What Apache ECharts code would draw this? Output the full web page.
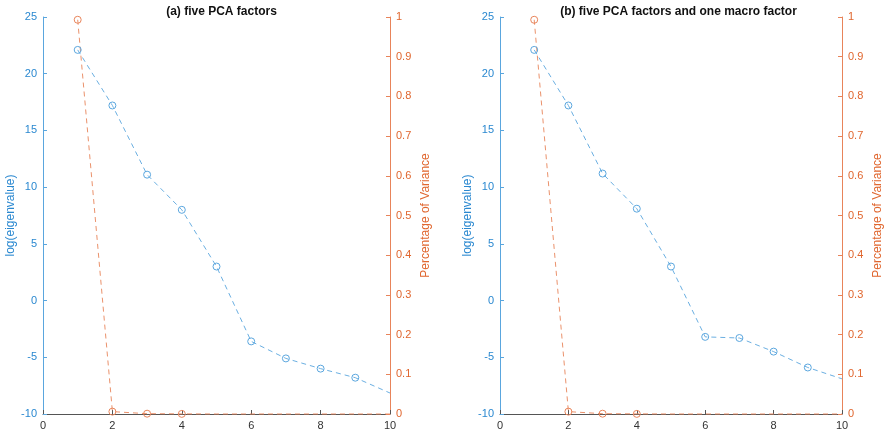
<!DOCTYPE html>
<html>
<head>
<meta charset="utf-8">
<script src="https://cdn.jsdelivr.net/npm/echarts@6/dist/echarts.min.js"></script>
<style>html,body{margin:0;padding:0;background:#fff}#c{width:885px;height:437px}</style>
</head>
<body>
<div id="c"></div>
<script>
var titles = ['(a) five PCA factors', '(b) five PCA factors and one macro factor'];
var factorX = [1, 2, 3, 4, 5, 6, 7, 8, 9, 10];
var logEigA = [22.1, 17.2, 11.1, 8.0, 3.0, -3.6, -5.1, -6.0, -6.8, -8.15];
var logEigB = [22.1, 17.2, 11.2, 8.1, 3.0, -3.2, -3.3, -4.5, -5.9, -6.9];
var varShareA = [0.993, 0.006, 0.0008, 0.0003, 0, 0, 0, 0, 0, 0];
var varShareB = [0.993, 0.006, 0.0008, 0.0003, 0, 0, 0, 0, 0, 0];
var markedVarPoints = 4;
var markedEigPoints = 9;

var BLUE = '#2A88D0';
var BLUE_LINE = '#5AA6DE';
var ORANGE = '#E0662E';
var ORANGE_LINE = '#E8845A';
var FONT = 'Liberation Sans';

function pts(vals, nMarked) {
  return factorX.map(function (x, i) {
    var p = { value: [x, vals[i]] };
    if (i >= nMarked) p.symbol = 'none';
    return p;
  });
}

var grids = [
  { left: 43, top: 17, width: 347, height: 397 },
  { left: 500, top: 17, width: 347, height: 397 }
];

var option = {
  animation: false,
  textStyle: { fontFamily: FONT },
  title: grids.map(function (g, i) {
    return {
      text: titles[i], left: g.left + g.width / 2, top: 1, textAlign: 'center',
      textStyle: { fontFamily: FONT, fontSize: 12, fontWeight: 'bold', color: '#111' }
    };
  }),
  grid: grids,
  xAxis: grids.map(function (g, i) {
    return {
      type: 'value', gridIndex: i, min: 0, max: 10, interval: 2,
      axisLine: { show: true, onZero: false, lineStyle: { color: '#555', width: 1 } },
      axisTick: { show: true, inside: true, length: 4, lineStyle: { color: '#555' } },
      axisLabel: { color: '#333', fontSize: 11, margin: 6, fontFamily: FONT },
      splitLine: { show: false }
    };
  }),
  yAxis: [].concat.apply([], grids.map(function (g, i) {
    return [
      {
        type: 'value', gridIndex: i, position: 'left', min: -10, max: 25, interval: 5,
        name: 'log(eigenvalue)', nameLocation: 'middle', nameGap: 26,
        nameTextStyle: { color: BLUE, fontSize: 12, fontFamily: FONT },
        axisLine: { show: true, lineStyle: { color: BLUE_LINE, width: 1 } },
        axisTick: { show: true, inside: true, length: 4, lineStyle: { color: BLUE_LINE } },
        axisLabel: { color: BLUE, fontSize: 11, margin: 6, fontFamily: FONT },
        splitLine: { show: false }
      },
      {
        type: 'value', gridIndex: i, position: 'right', min: 0, max: 1, interval: 0.1,
        name: 'Percentage of Variance', nameLocation: 'middle', nameGap: 30,
        nameRotate: 90,
        nameTextStyle: { color: ORANGE, fontSize: 12, fontFamily: FONT },
        axisLine: { show: true, lineStyle: { color: ORANGE_LINE, width: 1 } },
        axisTick: { show: true, inside: true, length: 4, lineStyle: { color: ORANGE_LINE } },
        axisLabel: { color: ORANGE, fontSize: 11, margin: 6, fontFamily: FONT },
        splitLine: { show: false }
      }
    ];
  })),
  series: [
    [logEigA, varShareA],
    [logEigB, varShareB]
  ].reduce(function (acc, pair, i) {
    acc.push({
      type: 'line', xAxisIndex: i, yAxisIndex: 2 * i, data: pts(pair[0], markedEigPoints),
      symbol: 'circle', symbolSize: 7, showAllSymbol: true, clip: false,
      lineStyle: { color: BLUE_LINE, width: 0.9, type: [5, 4] },
      itemStyle: { color: 'rgba(0,0,0,0)', borderColor: BLUE_LINE, borderWidth: 1 }
    });
    acc.push({
      type: 'line', xAxisIndex: i, yAxisIndex: 2 * i + 1, data: pts(pair[1], markedVarPoints),
      symbol: 'circle', symbolSize: 7, showAllSymbol: true, clip: false,
      lineStyle: { color: ORANGE_LINE, width: 0.9, type: [5, 4] },
      itemStyle: { color: 'rgba(0,0,0,0)', borderColor: ORANGE_LINE, borderWidth: 1 }
    });
    return acc;
  }, [])
};

var chart = echarts.init(document.getElementById('c'), null, { renderer: 'canvas' });
chart.setOption(option);
</script>
</body>
</html>
